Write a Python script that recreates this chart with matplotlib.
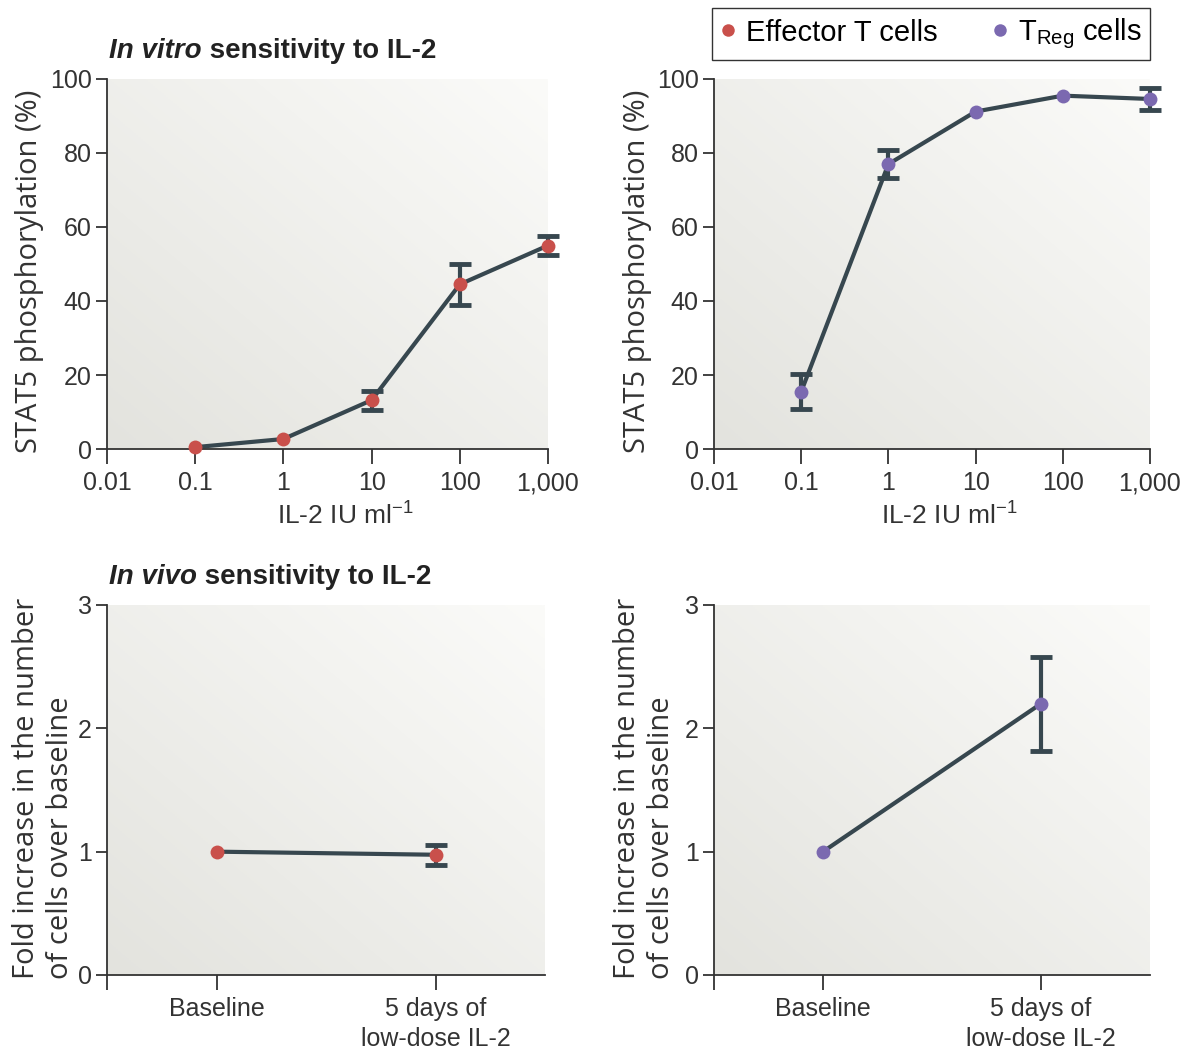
import numpy as np
import matplotlib
import matplotlib.pyplot as plt
from matplotlib.lines import Line2D

plt.rcParams['font.family'] = ['Liberation Sans', 'DejaVu Sans']
plt.rcParams['mathtext.fontset'] = 'custom'
plt.rcParams['mathtext.rm'] = 'Liberation Sans'
plt.rcParams['mathtext.it'] = 'Liberation Sans:italic'

# in vitro data
DOSE = [0.1, 1, 10, 100, 1000]
DOSE_LABELS = ['0.01', '0.1', '1', '10', '100', '1,000']
DOSE_TICKS = [0.01, 0.1, 1, 10, 100, 1000]
EFF_STAT5 = [0.5, 2.7, 13.2, 44.5, 55.0]
EFF_STAT5_ERR = [0, 0, 2.6, 5.5, 2.5]
TREG_STAT5 = [15.5, 77.0, 91.2, 95.5, 94.6]
TREG_STAT5_ERR = [4.8, 3.8, 0, 0, 3.0]

# in vivo data
GROUPS = ['Baseline', '5 days of\nlow-dose IL-2']
EFF_FOLD = [1.0, 0.975]
EFF_FOLD_ERR = [0, 0.08]
TREG_FOLD = [1.0, 2.2]
TREG_FOLD_ERR = [0, 0.38]

RED = '#c9504b'
PURPLE = '#7b69b0'
LINE = '#37474f'
INK = '#333333'

fig = plt.figure(figsize=(11.88, 10.51), dpi=100)
W, H = 1188, 1051


def box(x0, x1, y0, y1):
    return [x0 / W, 1 - y1 / H, (x1 - x0) / W, (y1 - y0) / H]


# soft gradient, darker at bottom left
gx, gy = np.meshgrid(np.linspace(0, 1, 200), np.linspace(0, 1, 200))
grad = ((1 - gx) + gy) / 2
cmap = matplotlib.colors.LinearSegmentedColormap.from_list('bg', ['#fbfbf9', '#e3e3de'])


def make_axes(rect):
    bg = fig.add_axes(rect, zorder=0)
    bg.imshow(grad, cmap=cmap, aspect='auto', extent=[0, 1, 0, 1], origin='upper')
    bg.axis('off')
    ax = fig.add_axes(rect, zorder=1)
    ax.patch.set_alpha(0)
    for s in ['top', 'right']:
        ax.spines[s].set_visible(False)
    for s in ['left', 'bottom']:
        ax.spines[s].set_color(INK)
        ax.spines[s].set_linewidth(1.3)
    ax.tick_params(axis='x', direction='out', length=11, width=1.3, color=INK,
                   labelsize=18, labelcolor=INK, pad=5)
    ax.tick_params(axis='y', direction='out', length=8, width=1.3, color=INK,
                   labelsize=18, labelcolor=INK, pad=3)
    return ax


def series(ax, x, y, err, color):
    x, y, err = np.array(x), np.array(y), np.array(err)
    ax.plot(x, y, color=LINE, lw=3, zorder=2, solid_capstyle='round', clip_on=False)
    has = err > 0
    ax.errorbar(x[has], y[has], yerr=err[has], fmt='none', ecolor=LINE, elinewidth=3,
                capsize=8, capthick=3.5, zorder=3, clip_on=False)
    ax.plot(x, y, 'o', color=color, ms=10, mec='none', zorder=4, clip_on=False)


def title(ax, italic, rest):
    t = ax.text(0.005, 1.04, italic, transform=ax.transAxes, fontsize=20,
                fontweight='bold', fontstyle='italic', color='#222222', va='bottom')
    ax.annotate(' ' + rest, xy=(1, 0), xycoords=t, fontsize=20, fontweight='bold',
                color='#222222', va='bottom')


ylab_font = dict(fontsize=21, color=INK, family=['Open Sans', 'DejaVu Sans'])

# top panels
for left, right, yv, ev, col in [(107, 548, EFF_STAT5, EFF_STAT5_ERR, RED),
                                 (714, 1150, TREG_STAT5, TREG_STAT5_ERR, PURPLE)]:
    ax = make_axes(box(left, right, 79, 449))
    ax.set_xscale('log')
    ax.set_xlim(0.01, 1000)
    ax.set_ylim(0, 100)
    ax.set_xticks(DOSE_TICKS)
    ax.set_xticklabels(DOSE_LABELS)
    ax.xaxis.set_minor_locator(matplotlib.ticker.NullLocator())
    ax.set_yticks([0, 20, 40, 60, 80, 100])
    ax.set_xlabel(r'IL-2 IU ml$^{-1}$', fontsize=19, color=INK)
    ax.xaxis.set_label_coords(0.54, -0.145)
    ax.set_ylabel('STAT5 phosphorylation (%)', **ylab_font)
    ax.yaxis.set_label_coords(-0.143, 0.48)
    series(ax, DOSE, yv, ev, col)
    if left == 107:
        title(ax, 'In vitro', 'sensitivity to IL-2')

# bottom panels
for left, right, yv, ev, col, lx in [(107, 545, EFF_FOLD, EFF_FOLD_ERR, RED, -0.074),
                                     (714, 1150, TREG_FOLD, TREG_FOLD_ERR, PURPLE, -0.088)]:
    ax = make_axes(box(left, right, 605, 975))
    ax.set_xlim(-0.5, 1.5)
    ax.set_ylim(0, 3)
    ax.set_xticks([-0.5, 0, 1])
    ax.set_xticklabels([''] + GROUPS, linespacing=1.3)
    ax.set_yticks([0, 1, 2, 3])
    ax.set_ylabel('Fold increase in the number\nof cells over baseline',
                  multialignment='left', linespacing=1.2, **ylab_font)
    ax.yaxis.set_label_coords(lx, 0.505)
    series(ax, [0, 1], yv, ev, col)
    if left == 107:
        title(ax, 'In vivo', 'sensitivity to IL-2')

handles = [Line2D([], [], ls='none', marker='o', color=RED, ms=9, mec='none'),
           Line2D([], [], ls='none', marker='o', color=PURPLE, ms=9, mec='none')]
fig.legend(handles, ['Effector T cells', r'T$_{\mathregular{Reg}}$ cells'],
           loc='upper right', bbox_to_anchor=(1150 / W, 1 - 8 / H), ncol=2,
           frameon=True, fancybox=False, edgecolor=INK, framealpha=1,
           handletextpad=0.35, handlelength=0.5, columnspacing=1.9,
           borderpad=0.3, borderaxespad=0, prop={'size': 21})

fig.savefig('out.png', dpi=100)
